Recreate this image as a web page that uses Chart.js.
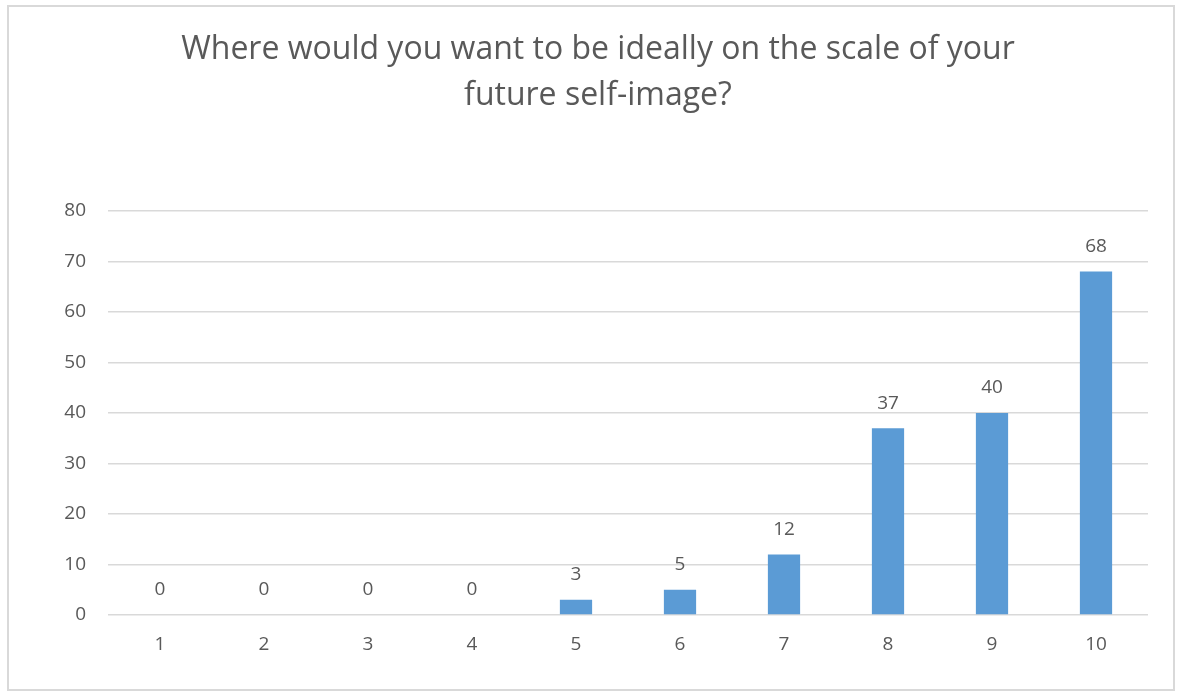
<!DOCTYPE html>
<html>
<head>
<meta charset="utf-8">
<script src="https://cdn.jsdelivr.net/npm/chart.js@4/dist/chart.umd.min.js"></script>
<style>
  body { margin: 0; background: #fff; }
  #wrap { position: relative; width: 1181px; height: 696px; }
</style>
</head>
<body>
<div id="wrap"><canvas id="chart" width="1181" height="696"></canvas></div>
<script>
var categories = ["1", "2", "3", "4", "5", "6", "7", "8", "9", "10"];
var counts = [0, 0, 0, 0, 3, 5, 12, 37, 40, 68];
var titleLines = ["Where would you want to be ideally on the scale of your", "future self-image?"];

var textColor = "#595959";
var fontFamily = "'Open Sans', sans-serif";

/* border around the whole chart, plus the two-line title */
var frame = {
  id: "frame",
  beforeDraw: function(chart) {
    var ctx = chart.ctx;
    ctx.save();
    ctx.strokeStyle = "#d9d9d9";
    ctx.lineWidth = 2;
    ctx.strokeRect(8, 6, 1166, 684);
    ctx.fillStyle = textColor;
    ctx.font = "32px " + fontFamily;
    ctx.textAlign = "center";
    ctx.textBaseline = "middle";
    ctx.fillText(titleLines[0], 598, 50);
    ctx.fillText(titleLines[1], 598, 96);
    ctx.restore();
  }
};

/* value labels above each bar */
var valueLabels = {
  id: "valueLabels",
  afterDatasetsDraw: function(chart) {
    var ctx = chart.ctx;
    var meta = chart.getDatasetMeta(0);
    ctx.save();
    ctx.fillStyle = textColor;
    ctx.font = "19px " + fontFamily;
    ctx.textAlign = "center";
    ctx.textBaseline = "middle";
    meta.data.forEach(function(bar, i) {
      ctx.fillText(String(counts[i]), bar.x, bar.y - 25);
    });
    ctx.restore();
  }
};

new Chart(document.getElementById("chart"), {
  type: "bar",
  data: {
    labels: categories,
    datasets: [{
      data: counts,
      backgroundColor: "#5b9bd5",
      barPercentage: 0.31,
      categoryPercentage: 1
    }]
  },
  options: {
    responsive: false,
    animation: false,
    layout: { padding: { left: 0, right: 33, top: 211, bottom: 0 } },
    plugins: {
      legend: { display: false },
      tooltip: { enabled: false },
      title: { display: false }
    },
    scales: {
      y: {
        min: 0,
        max: 80,
        ticks: { stepSize: 10, color: textColor, font: { size: 19, family: fontFamily }, padding: 22 },
        grid: { color: "#d9d9d9", lineWidth: 1.5, drawTicks: false },
        border: { display: false },
        afterFit: function(scale) { scale.width = 108; }
      },
      x: {
        ticks: { color: textColor, font: { size: 19, family: fontFamily }, padding: 18 },
        grid: { display: false, drawTicks: false },
        border: { display: false },
        afterFit: function(scale) { scale.height = 81; }
      }
    }
  },
  plugins: [frame, valueLabels]
});
</script>
</body>
</html>
